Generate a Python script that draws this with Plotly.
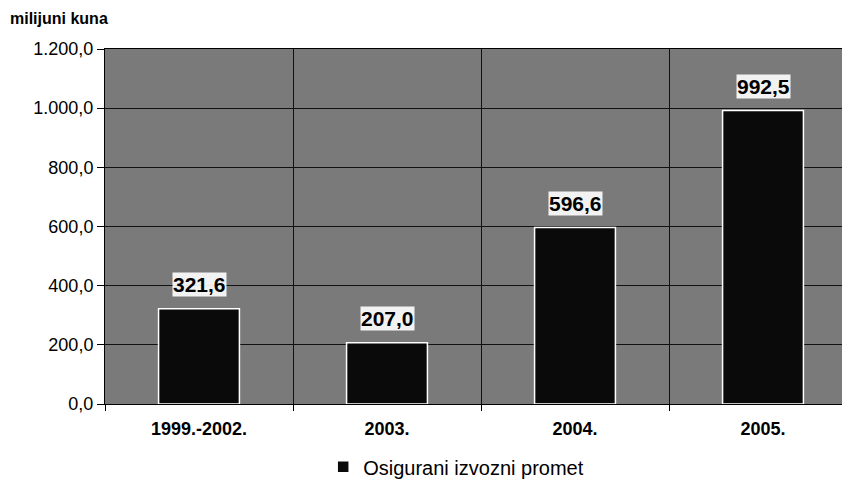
import plotly.graph_objects as go

categories = ["1999.-2002.", "2003.", "2004.", "2005."]
values = [321.6, 207.0, 596.6, 992.5]
value_labels = ["321,6", "207,0", "596,6", "992,5"]
series_name = "Osigurani izvozni promet"
y_title = "milijuni kuna"

FONT = "Liberation Sans, Arial, sans-serif"

fig = go.Figure()
fig.add_trace(go.Bar(
    x=categories, y=values, name=series_name,
    marker=dict(color="#0a0a0a", line=dict(color="white", width=1.5)),
    width=0.43, showlegend=True,
))

for i, (v, t) in enumerate(zip(values, value_labels)):
    fig.add_annotation(x=i, y=v, text="<b>" + t + "</b>", showarrow=False,
                       yshift=24, font=dict(family=FONT, size=21, color="black"),
                       bgcolor="rgba(255,255,255,0.9)", borderpad=0)

fig.add_annotation(xref="paper", yref="paper", x=-0.129, y=1.087, xanchor="left",
                   yanchor="middle", text="<b>" + y_title + "</b>", showarrow=False,
                   font=dict(family=FONT, size=16, color="black"))

fig.update_layout(
    width=850, height=492,
    margin=dict(l=97, r=1, t=41, b=96),
    paper_bgcolor="white", plot_bgcolor="#7a7a7a",
    separators=",.",
    font=dict(family=FONT, color="black"),
    legend=dict(orientation="h", x=0.467, xanchor="center", y=-0.177, yanchor="middle",
                font=dict(family=FONT, size=20, color="black"), bgcolor="rgba(0,0,0,0)"),
)
fig.update_xaxes(type="category", range=[-0.5, 3.5], tickson="boundaries", showgrid=True,
                 gridcolor="#111111", gridwidth=1, ticks="outside", ticklen=6,
                 tickcolor="black", showline=True, linecolor="black", mirror=True,
                 ticklabelstandoff=8,
                 tickfont=dict(family=FONT, size=18, color="black"),
                 tickprefix="<b>", ticksuffix="</b>")
fig.update_yaxes(range=[0, 1200], dtick=200, tickformat=",.1f", showgrid=True,
                 gridcolor="#111111", gridwidth=1, ticks="outside", ticklen=7,
                 tickcolor="black", showline=True, linecolor="black", mirror=True,
                 zeroline=False, tickfont=dict(family=FONT, size=18, color="black"))

fig.write_html("out.html")
